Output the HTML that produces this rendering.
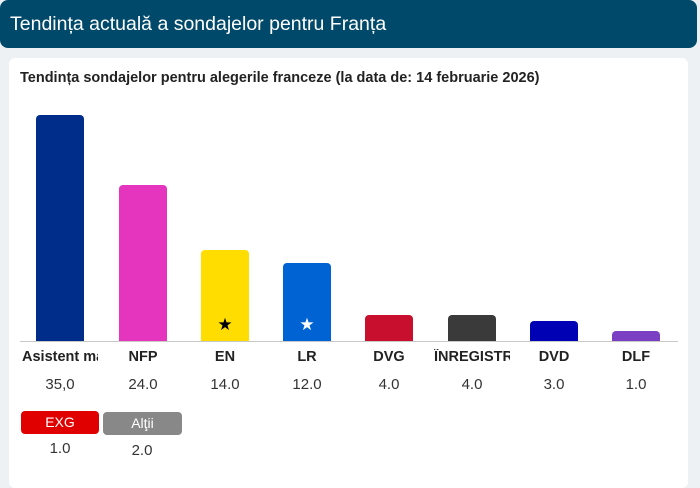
<!DOCTYPE html>
<html><head><meta charset="utf-8"><style>
*{margin:0;padding:0;box-sizing:border-box}
body{width:700px;height:472px;background:#eef1f3;font-family:"Liberation Sans",Arial,sans-serif;position:relative;overflow:hidden}
.hdr{position:absolute;left:0;top:0;width:697px;height:48px;background:#01496a;border-radius:8px;color:#fff;font-size:19.5px;line-height:48px;padding-left:10px;white-space:nowrap}
.card{position:absolute;left:9px;top:58px;width:679px;height:430px;background:#fff;border-radius:6px}
.ttl{position:absolute;left:20px;top:70px;font-size:14.5px;font-weight:bold;color:#222;white-space:nowrap}
.bar{position:absolute;width:48px;border-radius:4px 4px 0 0}
.base{position:absolute;left:20px;top:341px;width:658px;height:1px;background:#c8c8c8}
.lbl{position:absolute;top:349px;width:76px;font-size:14.5px;font-weight:bold;color:#222;text-align:center;white-space:nowrap;overflow:hidden}
.val{position:absolute;top:376px;width:76px;font-size:15px;color:#333;text-align:center}
.btn{position:absolute;height:23px;border-radius:4px;color:#fff;font-size:14px;text-align:center;line-height:23px}
.star{position:absolute;font-size:17px;line-height:17px;width:48px;text-align:center}
</style></head><body>
<div class="hdr">Tendința actuală a sondajelor pentru Franța</div>
<div class="card"></div>
<div class="ttl">Tendința sondajelor pentru alegerile franceze (la data de: 14 februarie 2026)</div>

<div class="bar" style="left:36px;top:115px;height:226px;background:#002d8a"></div>
<div class="bar" style="left:119px;top:185px;height:156px;background:#e535be"></div>
<div class="bar" style="left:201px;top:250px;height:91px;background:#ffdd00"></div>
<div class="bar" style="left:283px;top:263px;height:78px;background:#0063d3"></div>
<div class="bar" style="left:365px;top:315px;height:26px;background:#c8102e"></div>
<div class="bar" style="left:448px;top:315px;height:26px;background:#3a3a3a"></div>
<div class="bar" style="left:530px;top:321px;height:20px;background:#0000b4"></div>
<div class="bar" style="left:612px;top:331px;height:10px;background:#7b3fc4"></div>
<div class="star" style="left:201px;top:316px;color:#000">★</div>
<div class="star" style="left:283px;top:316px;color:#fff">★</div>
<div class="base"></div>

<div class="lbl" style="left:22px">Asistent maritim</div>
<div class="lbl" style="left:105px">NFP</div>
<div class="lbl" style="left:187px">EN</div>
<div class="lbl" style="left:269px">LR</div>
<div class="lbl" style="left:351px">DVG</div>
<div class="lbl" style="left:434px">ÎNREGISTRAȚI</div>
<div class="lbl" style="left:516px">DVD</div>
<div class="lbl" style="left:598px">DLF</div>

<div class="val" style="left:22px">35,0</div>
<div class="val" style="left:105px">24.0</div>
<div class="val" style="left:187px">14.0</div>
<div class="val" style="left:269px">12.0</div>
<div class="val" style="left:351px">4.0</div>
<div class="val" style="left:434px">4.0</div>
<div class="val" style="left:516px">3.0</div>
<div class="val" style="left:598px">1.0</div>

<div class="btn" style="left:21px;top:411px;width:78px;background:#e00000">EXG</div>
<div class="btn" style="left:103px;top:412px;width:79px;background:#888">Alţii</div>
<div class="val" style="left:22px;top:440px">1.0</div>
<div class="val" style="left:104px;top:442px">2.0</div>
</body></html>
